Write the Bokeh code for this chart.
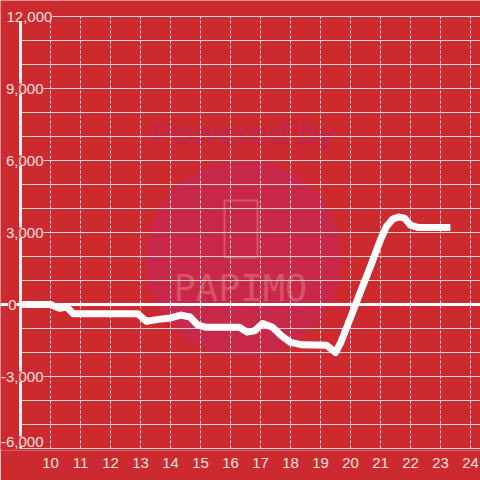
from bokeh.plotting import figure
from bokeh.models import Range1d, FixedTicker, Span, Label
from bokeh.embed import file_html
from bokeh.resources import INLINE
from bokeh.core.properties import value

BG = "#cc2a2f"
FONT = "Liberation Sans"
TXT = "#f3e0e0"

# data
hours = [9.0, 10.0, 10.3, 10.55, 10.75, 12.9, 13.2, 13.6, 14.0, 14.35, 14.65, 14.9,
         15.2, 16.3, 16.55, 16.8, 17.07, 17.4, 17.7, 18.0, 18.4, 19.2, 19.5, 19.67,
         20.0, 20.33, 20.67, 21.0, 21.2, 21.4, 21.6, 21.8, 22.0, 22.25, 23.33]
values = [0, 0, -160, -110, -380, -380, -700, -620, -560, -440, -520, -850,
          -950, -950, -1150, -1100, -790, -950, -1300, -1580, -1680, -1700, -2000, -1600,
          -550, 520, 1600, 2700, 3250, 3550, 3650, 3600, 3300, 3210, 3210]

x_ticks = list(range(10, 25))
y_grid_ticks = list(range(-6000, 12001, 1000))
y_label_ticks = [-6000, -3000, 0, 3000, 6000, 9000, 12000]

X_START, X_END = 8.3333, 24.3333
Y_MIN, Y_MAX = -6000, 12000
AXIS_X = 9.0

p = figure(width=480, height=480, output_backend="svg", toolbar_location=None,
           x_range=Range1d(X_START, X_END), y_range=Range1d(-6083, 12667),
           min_border_left=0, min_border_right=0, min_border_top=0, min_border_bottom=30)
p.background_fill_color = BG
p.border_fill_color = BG
p.outline_line_color = None
p.yaxis.visible = False

# x axis
p.xaxis.ticker = FixedTicker(ticks=x_ticks)
p.xaxis.axis_line_color = None
p.xaxis.major_tick_line_color = None
p.xaxis.minor_tick_line_color = None
p.xaxis.major_label_text_font = FONT
p.xaxis.major_label_text_font_size = "15px"
p.xaxis.major_label_text_color = TXT
p.xaxis.major_label_standoff = 1

# grids
p.xgrid.visible = False
p.ygrid.visible = False
p.segment(x0=x_ticks, y0=[Y_MIN] * len(x_ticks), x1=x_ticks, y1=[Y_MAX] * len(x_ticks),
          line_color="#e8e0e0", line_width=1, line_dash="3 2", level="underlay")
p.segment(x0=[AXIS_X] * len(y_grid_ticks), y0=y_grid_ticks,
          x1=[X_END] * len(y_grid_ticks), y1=y_grid_ticks,
          line_color="#d8d4d4", line_width=1, level="underlay")

# watermark
p.scatter([16.43], [1917], size=196, marker="circle", fill_color="#c8284a",
          line_color=None, level="image")
p.text([16.43], [7125], text=["Powered by"], text_font=value(FONT), text_font_size="33px",
       text_font_style="bold italic", text_color="#c4264a", text_align="center",
       text_baseline="middle", level="image")
p.rect([16.35], [3146], width=33, height=57, width_units="screen", height_units="screen",
       fill_color=None, line_color="#d65466", line_width=2, level="image")
p.text([16.33], [667], text=["PAPIMO"], text_font=value("DejaVu Sans Mono"),
       text_font_size="37px", text_color="#d65466", text_align="center",
       text_baseline="middle", level="image")

# zero line and axis line
p.add_layout(Span(location=0, dimension="width", line_color="white", line_width=3))
p.segment(x0=[AXIS_X], y0=[Y_MIN], x1=[AXIS_X], y1=[Y_MAX],
          line_color="#f2eeee", line_width=3)

# series
p.line(hours, values, line_color="white", line_width=7, line_join="round", line_cap="butt")

# y labels
for v in y_label_ticks:
    txt = f"{v:,}"
    x, align, yy = 9.767, "right", v
    if v == 12000:
        x, align = 8.533, "left"
    elif v == 0:
        x = 8.867
    elif v == -6000:
        yy = -5708
    p.add_layout(Label(x=x, y=yy, text=txt, text_align=align, text_baseline="middle",
                       text_font=FONT, text_font_size="15px", text_color=TXT,
                       background_fill_color=BG))

open("out.html", "w").write(file_html(p, INLINE))
